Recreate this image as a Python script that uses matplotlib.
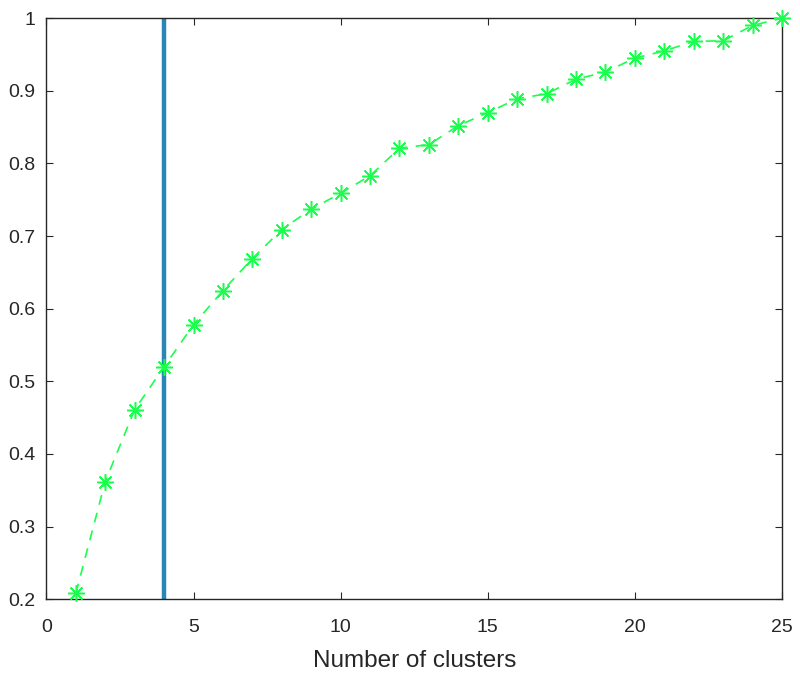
import numpy as np
import matplotlib.pyplot as plt

# Donnees
clusters = np.arange(1, 26)
ratio = [0.208, 0.362, 0.461, 0.520, 0.578, 0.625, 0.669, 0.709, 0.737, 0.759,
         0.783, 0.821, 0.826, 0.852, 0.870, 0.889, 0.896, 0.916, 0.926, 0.945,
         0.955, 0.968, 0.969, 0.990, 1.000]
k_choisi = 4
xticks = [0, 5, 10, 15, 20, 25]
yticks = [0.2, 0.3, 0.4, 0.5, 0.6, 0.7, 0.8, 0.9, 1.0]
ytick_labels = ["0.2", "0.3", "0.4", "0.5", "0.6", "0.7", "0.8", "0.9", "1"]

plt.rcParams['font.family'] = ['Liberation Sans', 'DejaVu Sans']

fig = plt.figure(figsize=(8, 6.74), dpi=100)
ax = fig.add_axes([0.058, 0.111, 0.9195, 0.862])

ax.plot(clusters, ratio, linestyle=(0, (6, 5)), color='#1aff4d', linewidth=1.2,
        marker=(8, 2, 0), markersize=12, markeredgewidth=1.1, clip_on=False, zorder=3)
ax.axvline(k_choisi, color='#2a86b4', linewidth=3.2, zorder=2)

ax.set_xlim(0, 25)
ax.set_ylim(0.2, 1)
ax.set_xticks(xticks)
ax.set_yticks(yticks)
ax.set_yticklabels(ytick_labels)
ax.tick_params(direction='in', top=True, right=True, labelsize=14, length=5,
               color='#262626', labelcolor='#262626')
ax.tick_params(axis='x', pad=14)
ax.tick_params(axis='y', pad=8)
for s in ax.spines.values():
    s.set_color('#262626')
    s.set_linewidth(1.0)
ax.set_xlabel("Number of clusters", fontsize=17.5, color='#262626', labelpad=10)

plt.savefig("out.png", dpi=100)
